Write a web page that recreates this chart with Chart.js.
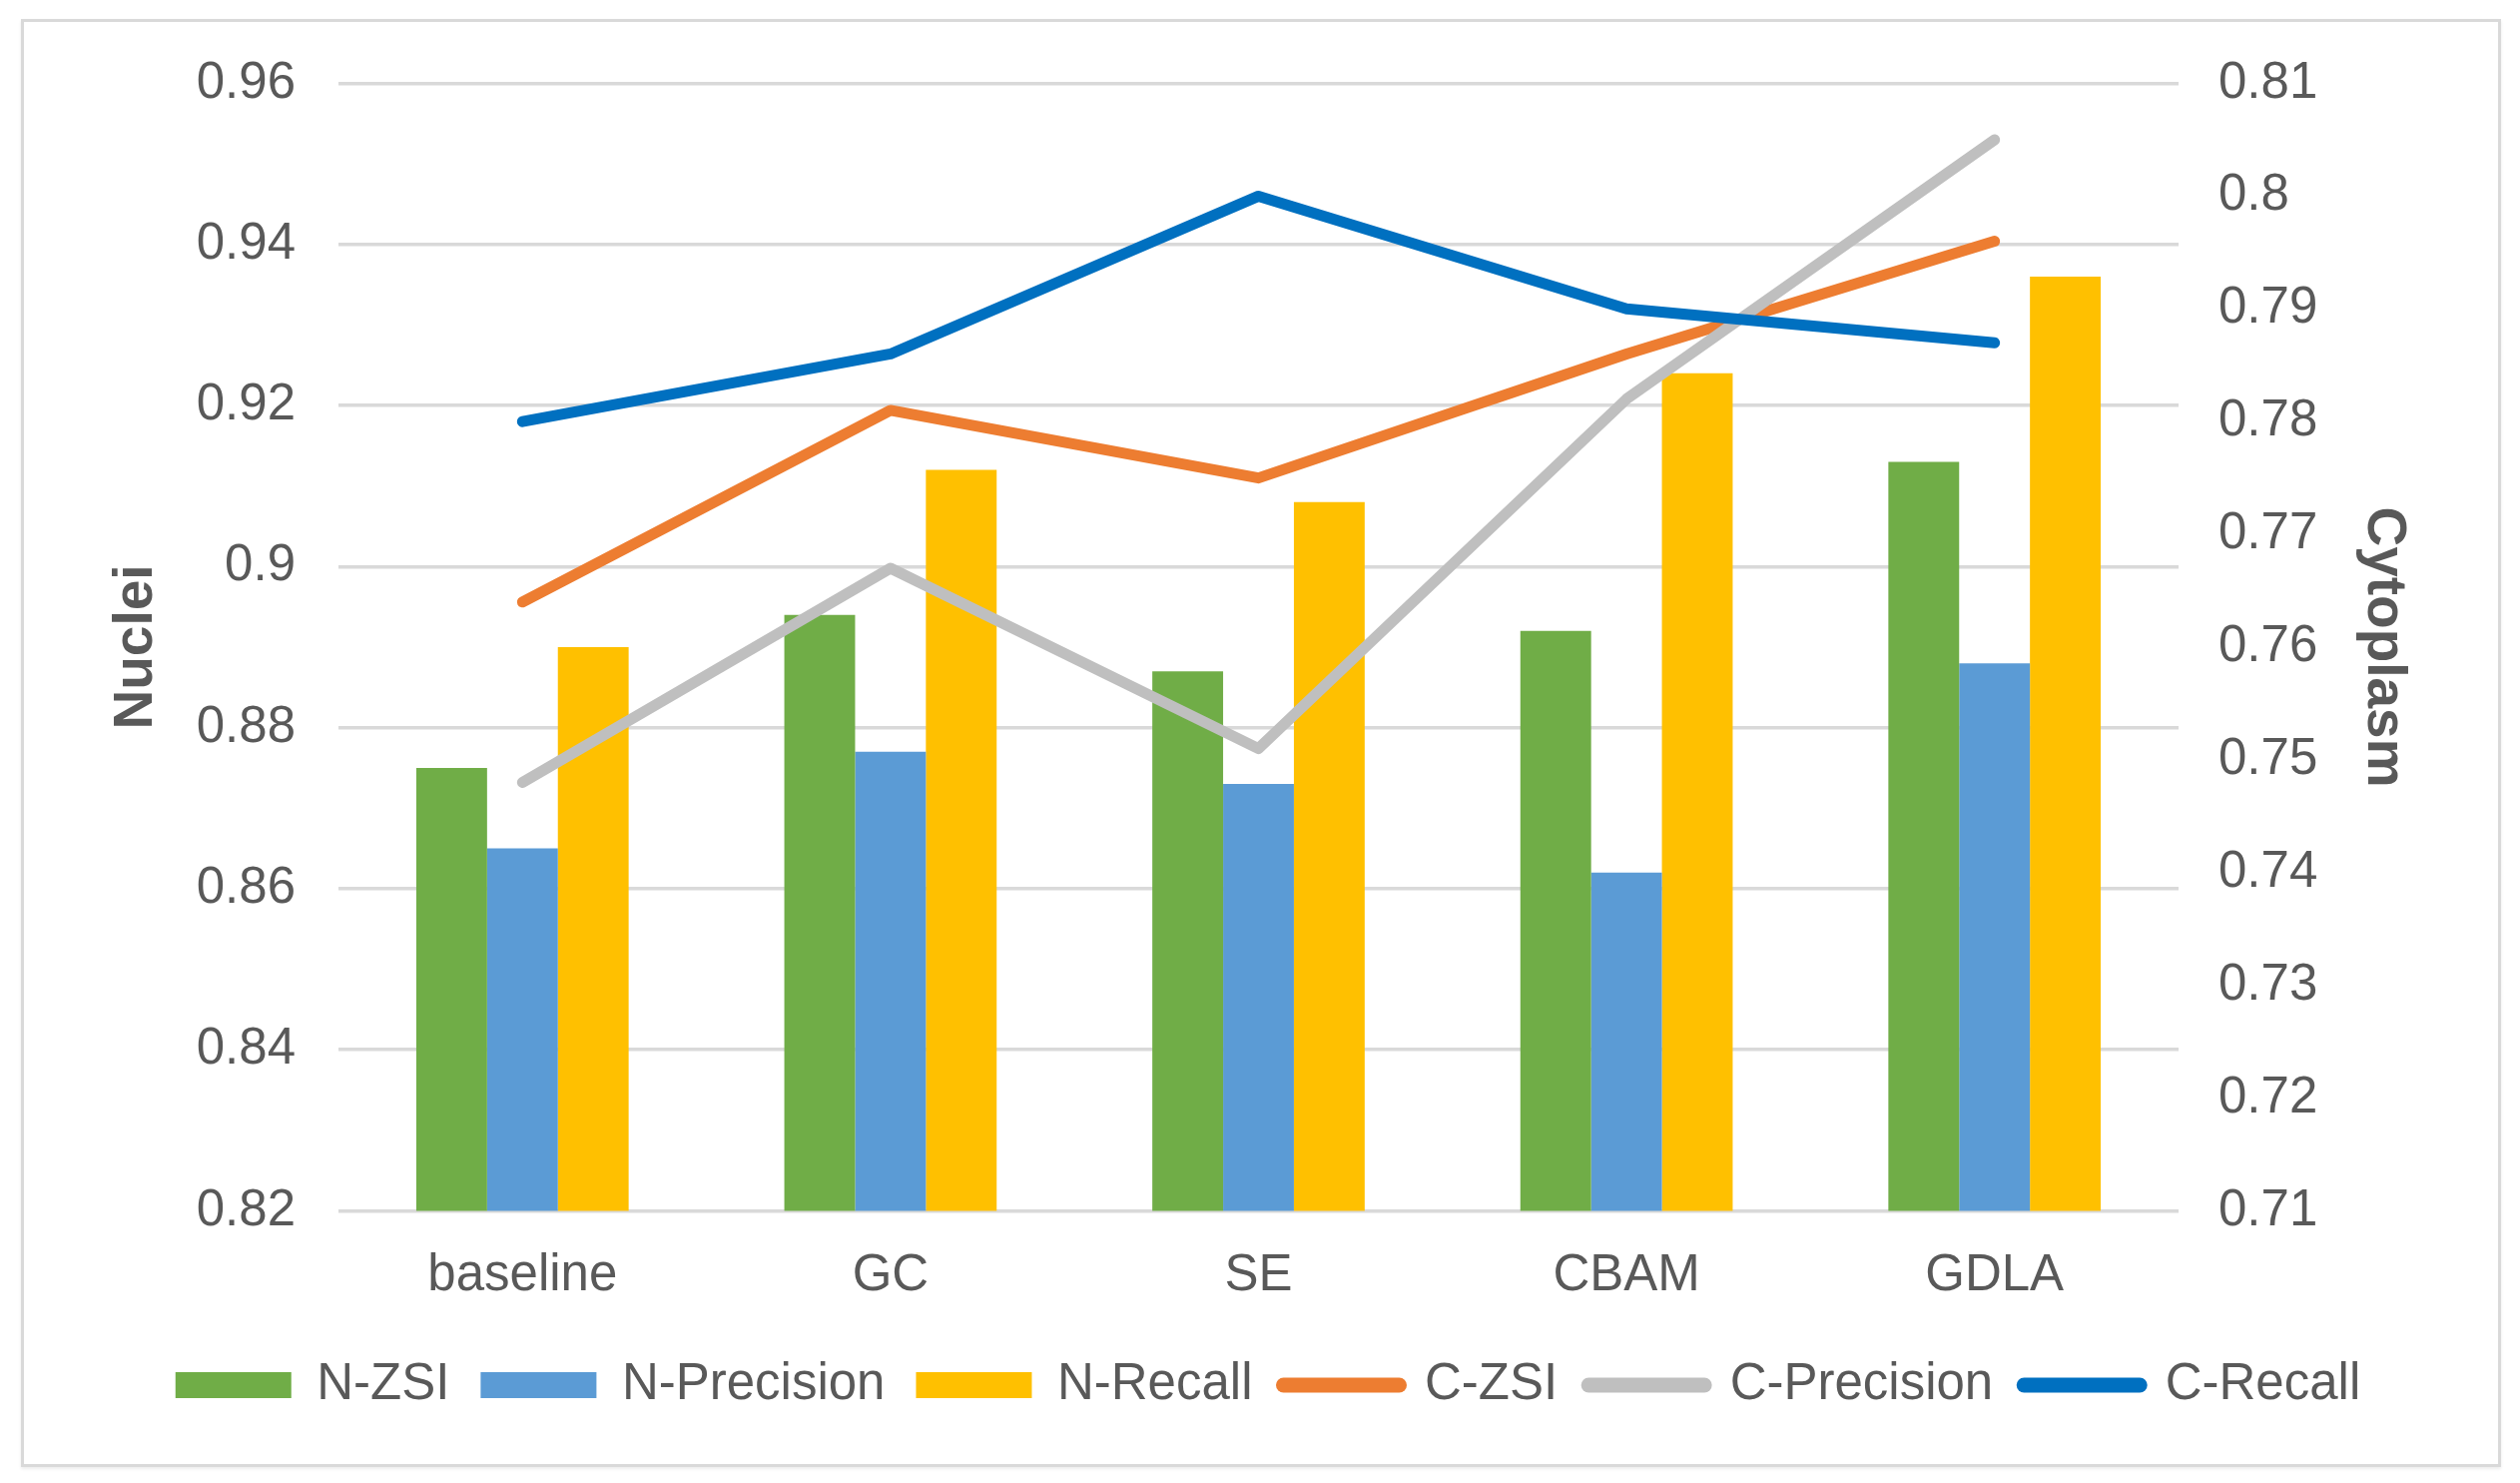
<!DOCTYPE html>
<html>
<head>
<meta charset="utf-8">
<script src="https://cdn.jsdelivr.net/npm/chart.js@4.4.1/dist/chart.umd.min.js"></script>
<style>
  html, body { margin: 0; padding: 0; background: #fff; }
  #frame {
    position: absolute; left: 21px; top: 19px; width: 2484px; height: 1450px;
    box-sizing: border-box; border: 3px solid #d9d9d9;
    box-shadow: 0 2px 3px rgba(0, 0, 0, 0.08);
  }
  #chart { position: absolute; left: 0; top: 0; }
</style>
</head>
<body>
<div id="frame"></div>
<canvas id="chart" width="2524" height="1485"></canvas>
<script>
// data
const categories = ['baseline', 'GC', 'SE', 'CBAM', 'GDLA'];
const nZsi = [0.875, 0.894, 0.887, 0.892, 0.913];
const nPrecision = [0.865, 0.877, 0.873, 0.862, 0.888];
const nRecall = [0.890, 0.912, 0.908, 0.924, 0.936];
const cZsi = [0.764, 0.781, 0.775, 0.786, 0.796];
const cPrecision = [0.748, 0.767, 0.751, 0.782, 0.805];
const cRecall = [0.780, 0.786, 0.800, 0.790, 0.787];

const TEXT = '#595959';
const FONT = "'Liberation Sans', Arial, sans-serif";
const fmt = (v) => String(parseFloat(Number(v).toFixed(2)));

const barSet = (label, data, color, order) => ({
  type: 'bar', label, data, order,
  backgroundColor: color, borderWidth: 0,
  yAxisID: 'y',
});
const lineSet = (label, data, color, order) => ({
  type: 'line', label, data, order,
  borderColor: color, backgroundColor: color,
  borderWidth: 11, borderCapStyle: 'round', borderJoinStyle: 'round',
  pointRadius: 0, pointHoverRadius: 0, tension: 0, fill: false,
  yAxisID: 'y1',
});

const ctx = document.getElementById('chart');
new Chart(ctx, {
  data: {
    labels: categories,
    datasets: [
      barSet('N-ZSI', nZsi, '#70AD47', 3),
      barSet('N-Precision', nPrecision, '#5B9BD5', 4),
      barSet('N-Recall', nRecall, '#FFC000', 5),
      lineSet('C-ZSI', cZsi, '#ED7D31', 2),
      lineSet('C-Precision', cPrecision, '#BFBFBF', 1),
      lineSet('C-Recall', cRecall, '#0070C0', 0),
    ]
  },
  options: {
    responsive: false,
    animation: false,
    devicePixelRatio: 1,
    layout: { padding: { left: 78, right: 62, top: 83.5, bottom: 62.5 } },
    datasets: { bar: { categoryPercentage: 0.577, barPercentage: 1 } },
    scales: {
      x: {
        grid: { display: false },
        border: { display: false },
        ticks: { color: TEXT, font: { family: FONT, size: 51 }, padding: 27 },
        afterFit: (s) => { s.height = 118; },
      },
      y: {
        position: 'left',
        min: 0.82, max: 0.96,
        grid: { color: '#D9D9D9', lineWidth: 3.5, drawTicks: false },
        border: { display: false },
        ticks: { stepSize: 0.02, color: TEXT, font: { family: FONT, size: 51 }, padding: 43, callback: fmt },
        title: { display: true, text: 'Nuclei', color: TEXT, font: { family: FONT, size: 55, weight: 'bold' }, padding: { top: 26, bottom: 0 } },
        afterFit: (s) => { s.width = 261; },
      },
      y1: {
        position: 'right',
        min: 0.71, max: 0.81,
        grid: { display: false, drawTicks: false },
        border: { display: false },
        ticks: { stepSize: 0.01, color: TEXT, font: { family: FONT, size: 51 }, padding: 40, callback: fmt },
        title: { display: true, text: 'Cytoplasm', color: TEXT, font: { family: FONT, size: 55, weight: 'bold' }, padding: { top: 42, bottom: 0 } },
        afterFit: (s) => { s.width = 280; },
      },
    },
    plugins: {
      tooltip: { enabled: false },
      legend: {
        position: 'bottom',
        labels: {
          color: TEXT,
          font: { family: FONT, size: 51 },
          usePointStyle: true,
          pointStyleWidth: 116,
          boxHeight: 26,
          padding: 31,
          sort: (a, b) => a.datasetIndex - b.datasetIndex,
          generateLabels: (chart) => chart.data.datasets.map((ds, i) => {
            const isLine = ds.type === 'line';
            return {
              text: ds.label,
              datasetIndex: i,
              fontColor: TEXT,
              fillStyle: isLine ? 'rgba(0,0,0,0)' : ds.backgroundColor,
              strokeStyle: isLine ? ds.borderColor : ds.backgroundColor,
              lineWidth: isLine ? 15 : 0,
              lineCap: 'round',
              pointStyle: isLine ? 'line' : 'rect',
              hidden: false,
            };
          }),
        }
      }
    }
  }
});
</script>
</body>
</html>
